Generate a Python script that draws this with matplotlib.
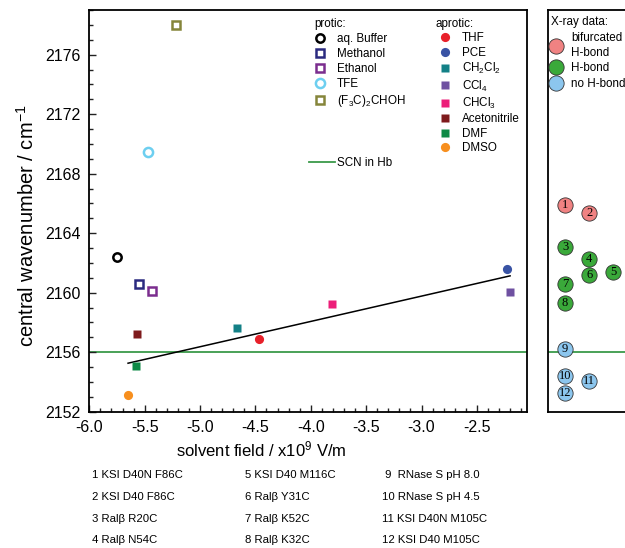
import numpy as np
import matplotlib
matplotlib.use("Agg")
import matplotlib.pyplot as plt
from matplotlib.lines import Line2D
from matplotlib.ticker import MultipleLocator

plt.rcParams["font.family"] = ["Liberation Sans", "DejaVu Sans"]
plt.rcParams["mathtext.default"] = "regular"

# protic solvents (open markers)
protic_names = ["aq. Buffer", "Methanol", "Ethanol", "TFE", "(F$_3$C)$_2$CHOH"]
protic_field = [-5.75, -5.55, -5.43, -5.47, -5.22]
protic_freq = [2162.4, 2160.55, 2160.13, 2169.48, 2178.0]
protic_colors = ["#000000", "#2b2a80", "#7b2d8e", "#6dcff0", "#85853a"]
protic_markers = ["o", "s", "s", "o", "s"]

# aprotic solvents (filled markers)
aprotic_names = ["THF", "PCE", "CH$_2$Cl$_2$", "CCl$_4$", "CHCl$_3$",
                 "Acetonitrile", "DMF", "DMSO"]
aprotic_field = [-4.47, -2.23, -4.67, -2.20, -3.81, -5.57, -5.58, -5.65]
aprotic_freq = [2156.9, 2161.62, 2157.62, 2160.04, 2159.23, 2157.22, 2155.05, 2153.15]
aprotic_colors = ["#e8202a", "#3953a4", "#138086", "#6f51a1", "#ec1e79",
                  "#7e1a1c", "#0e8a46", "#f78f1e"]
aprotic_markers = ["o", "o", "s", "s", "s", "s", "s", "o"]

scn_hb = 2156.0

# X-ray data (right panel)
xray_ids = ["1", "2", "3", "4", "5", "6", "7", "8", "9", "10", "11", "12"]
xray_col = [0, 1, 0, 1, 2, 1, 0, 0, 0, 0, 1, 0]
xray_freq = [2165.9, 2165.38, 2163.1, 2162.25, 2161.36, 2161.2, 2160.58,
             2159.3, 2156.22, 2154.42, 2154.09, 2153.26]
xray_class = ["bif", "bif", "hb", "hb", "hb", "hb", "hb", "hb", "no", "no", "no", "no"]
xray_class_labels = {"bif": "bifurcated\nH-bond", "hb": "H-bond", "no": "no H-bond"}
xray_class_colors = {"bif": "#f08282", "hb": "#3aa93a", "no": "#8cc6ee"}

key_col1 = ["1 KSI D40N F86C", "2 KSI D40 F86C", "3 Ralβ R20C", "4 Ralβ N54C"]
key_col2 = ["5 KSI D40 M116C", "6 Ralβ Y31C", "7 Ralβ K52C", "8 Ralβ K32C"]
key_col3 = [" 9  RNase S pH 8.0", "10 RNase S pH 4.5", "11 KSI D40N M105C", "12 KSI D40 M105C"]

W, H = 625, 548
fig = plt.figure(figsize=(W / 100, H / 100), dpi=100)
ax = fig.add_axes([89.3 / W, 1 - 411.7 / H, 437.4 / W, 401.7 / H])
ax2 = fig.add_axes([547.7 / W, 1 - 411.7 / H, 80 / W, 401.7 / H])

# main panel
protic_handles = []
for name, xv, yv, c, m in zip(protic_names, protic_field, protic_freq,
                              protic_colors, protic_markers):
    ms = 6.0 if m == "o" else 5.2
    if name == "TFE":
        ms = 6.6
    h, = ax.plot([xv], [yv], linestyle="none", marker=m, ms=ms, mfc="white",
                 mec=c, mew=1.8, label=name, zorder=3)
    protic_handles.append(h)

aprotic_handles = []
for name, xv, yv, c, m in zip(aprotic_names, aprotic_field, aprotic_freq,
                              aprotic_colors, aprotic_markers):
    ms = 6.6 if m == "o" else 5.4
    h, = ax.plot([xv], [yv], linestyle="none", marker=m, ms=ms, mfc=c,
                 mec="none", label=name, zorder=3)
    aprotic_handles.append(h)

# linear fit through the aprotic solvents
slope, icpt = np.polyfit(aprotic_field, aprotic_freq, 1)
xf = np.array([min(aprotic_field), max(aprotic_field)])
ax.plot(xf, slope * xf + icpt, color="black", lw=1.1, zorder=2)

ax.axhline(scn_hb, color="#3a9a4a", lw=1.3, zorder=1)
ax2.axhline(scn_hb, color="#3a9a4a", lw=1.3, zorder=1)

ax.set_xlim(-6.0, -2.05)
ax.set_ylim(2152, 2179)
ax.xaxis.set_minor_locator(MultipleLocator(0.1))
ax.yaxis.set_major_locator(MultipleLocator(4))
ax.yaxis.set_minor_locator(MultipleLocator(1))
ax.set_xticks(np.arange(-6.0, -2.4, 0.5))
ax.xaxis.set_major_formatter(plt.FuncFormatter(lambda v, p: f"{v:.1f}"))
ax.tick_params(which="both", direction="in", top=False, right=False,
               labelsize=11.5, width=1.0, color="#222222")
ax.tick_params(which="major", length=5)
ax.tick_params(which="minor", length=3)
ax.tick_params(axis="x", pad=6)
ax.tick_params(axis="y", pad=6)
for s in ax.spines.values():
    s.set_linewidth(1.3)

ax.set_xlabel("solvent field / x10$^9$ V/m", fontsize=12)
ax.xaxis.set_label_coords((261 - 89.3) / 437.4, -0.070)
ax.set_ylabel("central wavenumber / cm$^{-1}$", fontsize=14.5)
ax.yaxis.set_label_coords(-0.117, 0.462)

leg1 = ax.legend(handles=protic_handles, title="protic:", loc="upper left",
                 bbox_to_anchor=(0.515, 0.98), frameon=False, fontsize=8.4,
                 title_fontsize=8.4, alignment="left", borderpad=0,
                 borderaxespad=0, handlelength=1.0, handletextpad=0.9,
                 labelspacing=0.25)
ax.add_artist(leg1)
leg2 = ax.legend(handles=aprotic_handles, title="aprotic:", loc="upper left",
                 bbox_to_anchor=(0.792, 0.98), frameon=False, fontsize=8.4,
                 title_fontsize=8.4, alignment="left", borderpad=0,
                 borderaxespad=0, handlelength=1.6, handletextpad=0.65,
                 labelspacing=0.2)
ax.add_artist(leg2)
scn_handle = Line2D([], [], color="#3a9a4a", lw=1.3)
ax.legend(handles=[scn_handle], labels=["SCN in Hb"], loc="center left",
          bbox_to_anchor=(0.502, 0.619), frameon=False, fontsize=8.4,
          borderpad=0, borderaxespad=0, handlelength=2.2, handletextpad=0.2)

# right panel: X-ray data
for key in ["bif", "hb", "no"]:
    idx = [i for i, k in enumerate(xray_class) if k == key]
    ax2.plot([xray_col[i] for i in idx], [xray_freq[i] for i in idx],
             linestyle="none", marker="o", ms=11, mfc=xray_class_colors[key],
             mec="#333333", mew=0.6, label=xray_class_labels[key], zorder=3)
for lab, xc, yv in zip(xray_ids, xray_col, xray_freq):
    ax2.text(xc, yv, lab, ha="center", va="center", fontsize=9,
             family="Liberation Serif", zorder=4)

ax2.set_xlim(-0.72, 2.6)
ax2.set_ylim(ax.get_ylim())
ax2.set_xticks([])
ax2.set_yticks([])
ax2.spines["right"].set_visible(False)
for s in ["left", "top", "bottom"]:
    ax2.spines[s].set_linewidth(1.3)
xleg = ax2.legend(title="X-ray data:", loc="upper left", bbox_to_anchor=(0.04, 0.985),
                  frameon=False, fontsize=8.4, title_fontsize=8.4, alignment="left",
                  borderpad=0, borderaxespad=0, handlelength=0.8, handletextpad=0.95,
                  labelspacing=0.3)
for t in xleg.get_texts():
    t.set_linespacing(1.35)

# key to the numbered X-ray points
rows_y = [475, 497, 519, 540]
for col_x, col in zip([92, 245, 382], [key_col1, key_col2, key_col3]):
    for yy, txt in zip(rows_y, col):
        fig.text(col_x / W, 1 - yy / H, txt, ha="left", va="center",
                 fontsize=8.2)

fig.savefig("out.png", dpi=100)
